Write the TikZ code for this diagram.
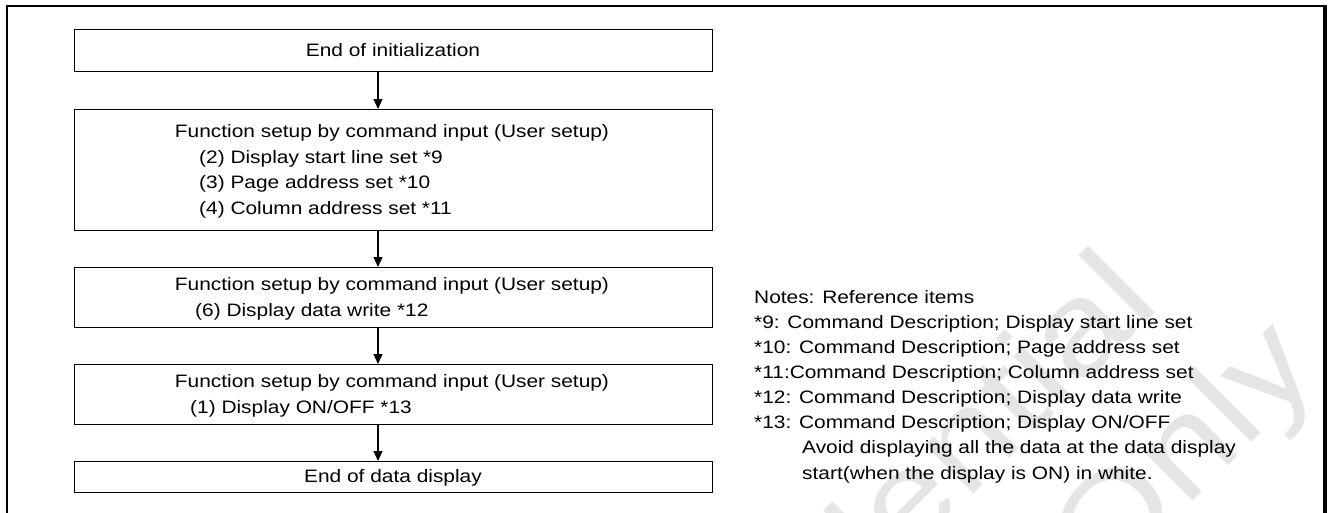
\documentclass[tikz,border=0pt]{standalone}
\usepackage{fontspec}
\setmainfont{Liberation Sans}[FakeStretch=1.16]
\usetikzlibrary{arrows.meta}
\begin{document}
\begin{tikzpicture}[x=1pt,y=-1pt,
  font=\fontsize{18}{25}\selectfont,
  box/.style={draw, line width=1.3pt, rectangle, inner sep=0pt, anchor=north west, minimum width=638pt},
  txt/.style={inner sep=0pt, anchor=base},
  item/.style={inner sep=0pt, anchor=base west},
  wmark/.style={inner sep=0pt, anchor=base east, rotate=45, text=black!10, font=\fontsize{130}{130}\selectfont},
  flow/.style={line width=1.2pt, -{Triangle[width=9pt,length=10pt]}}]
\useasboundingbox (0,0) rectangle (1328,512);
\begin{scope}
\clip (0,0) rectangle (1328,512);
\node[wmark] (w1) at (1162,306) {Confidential};
\node[wmark] (w2) at (1322,372) {Only};
\end{scope}
% outer frame
\draw[line width=2.5pt] (7,530) -- (7,6) -- (1324.5,6);
\draw[line width=4pt] (1324.5,4.75) -- (1324.5,530);
% boxes
\node[box, minimum height=42pt] (b1) at (74,29) {};
\node[box, minimum height=121pt] (b2) at (74,109) {};
\node[box, minimum height=60pt] (b3) at (74,267) {};
\node[box, minimum height=60pt] (b4) at (74,364) {};
\node[box, minimum height=31pt] (b5) at (74,461) {};
% texts
\node[txt] (t1) at (393,56) {End of initialization};
\node[txt] (t2) at (392,137) {Function setup by command input (User setup)};
\node[item] (t2a) at (199,163) {(2) Display start line set *9};
\node[item] (t2b) at (199,188) {(3) Page address set *10};
\node[item] (t2c) at (199,214) {(4) Column address set *11};
\node[txt] (t3) at (392,290) {Function setup by command input (User setup)};
\node[item] (t3a) at (195,316) {(6) Display data write *12};
\node[txt] (t4) at (392,387) {Function setup by command input (User setup)};
\node[item] (t4a) at (190,413) {(1) Display ON/OFF *13};
\node[txt] (t5) at (393,482) {End of data display};
% notes
\node[item] (n0) at (754,303) {Notes: Reference items};
\node[item] (n1) at (754,328) {*9: Command Description; Display start line set};
\node[item] (n2) at (754,353) {*10: Command Description; Page address set};
\node[item] (n3) at (754,378) {*11:Command Description; Column address set};
\node[item] (n4) at (754,403) {*12: Command Description; Display data write};
\node[item] (n5) at (754,428) {*13: Command Description; Display ON/OFF};
\node[item] (n6) at (802,453) {Avoid displaying all the data at the data display};
\node[item] (n7) at (802,479) {start(when the display is ON) in white.};
% arrows
\coordinate (ax) at (378,0);
\draw[flow] (b1.south -| ax) -- (b2.north -| ax);
\draw[flow] (b2.south -| ax) -- (b3.north -| ax);
\draw[flow] (b3.south -| ax) -- (b4.north -| ax);
\draw[flow] (b4.south -| ax) -- (b5.north -| ax);
\end{tikzpicture}
\end{document}
